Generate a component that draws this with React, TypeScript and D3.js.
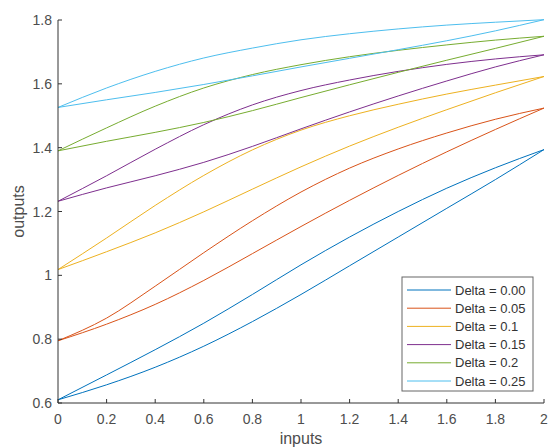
import React from "react";
import * as d3 from "d3";

const xValues = [0, 0.2, 0.4, 0.6, 0.8, 1.0, 1.2, 1.4, 1.6, 1.8, 2.0];
const legendLabels = ["Delta = 0.00", "Delta = 0.05", "Delta = 0.1", "Delta = 0.15", "Delta = 0.2", "Delta = 0.25"];
const seriesColors = ["#0072BD", "#D95319", "#EDB120", "#7E2F8E", "#77AC30", "#4DBEEE"];

const d000Upper = [0.61, 0.688, 0.767, 0.85, 0.94, 1.033, 1.12, 1.2, 1.273, 1.337, 1.394];
const d000Lower = [0.61, 0.657, 0.712, 0.778, 0.855, 0.94, 1.03, 1.12, 1.21, 1.3, 1.394];
const d005Upper = [0.795, 0.866, 0.966, 1.071, 1.171, 1.261, 1.336, 1.396, 1.446, 1.489, 1.524];
const d005Lower = [0.795, 0.847, 0.909, 0.984, 1.068, 1.153, 1.235, 1.313, 1.387, 1.457, 1.524];
const d010Upper = [1.018, 1.117, 1.219, 1.313, 1.393, 1.455, 1.5, 1.536, 1.568, 1.596, 1.623];
const d010Lower = [1.018, 1.074, 1.133, 1.199, 1.27, 1.34, 1.405, 1.464, 1.519, 1.572, 1.623];
const d015Upper = [1.232, 1.312, 1.395, 1.472, 1.534, 1.579, 1.612, 1.639, 1.661, 1.678, 1.691];
const d015Lower = [1.232, 1.274, 1.312, 1.354, 1.404, 1.459, 1.512, 1.562, 1.609, 1.653, 1.691];
const d020Upper = [1.39, 1.462, 1.53, 1.587, 1.629, 1.66, 1.685, 1.705, 1.722, 1.737, 1.749];
const d020Lower = [1.39, 1.42, 1.448, 1.479, 1.516, 1.557, 1.597, 1.636, 1.674, 1.711, 1.749];
const d025Upper = [1.526, 1.587, 1.639, 1.681, 1.712, 1.738, 1.757, 1.772, 1.784, 1.793, 1.801];
const d025Lower = [1.526, 1.55, 1.573, 1.598, 1.625, 1.653, 1.68, 1.707, 1.735, 1.766, 1.801];

const seriesUpper = [d000Upper, d005Upper, d010Upper, d015Upper, d020Upper, d025Upper];
const seriesLower = [d000Lower, d005Lower, d010Lower, d015Lower, d020Lower, d025Lower];

const xTicks = [0, 0.2, 0.4, 0.6, 0.8, 1, 1.2, 1.4, 1.6, 1.8, 2];
const yTicks = [0.6, 0.8, 1, 1.2, 1.4, 1.6, 1.8];

const W = 552;
const H = 448;
const left = 58;
const right = 544;
const top = 20;
const bottom = 403;

export default function App() {
  const x = d3.scaleLinear().domain([0, 2]).range([left, right]);
  const y = d3.scaleLinear().domain([0.6, 1.8]).range([bottom, top]);
  const line = d3
    .line<number>()
    .x((_, i) => x(xValues[i]))
    .y((d) => y(d))
    .curve(d3.curveMonotoneX);

  const font = "'Liberation Sans', Arial, sans-serif";
  const axisColor = "#333";
  const textColor = "#4d4d4d";

  const legX = 402;
  const legY = 277;
  const legW = 131;
  const legH = 114;
  const rowH = 18.2;

  return (
    <svg width={W} height={H} style={{ position: "absolute", left: 0, top: 0, background: "#fff" }}>
      <rect x={0} y={0} width={W} height={H} fill="#fff" />
      {seriesUpper.map((up, k) => (
        <g key={k} fill="none" stroke={seriesColors[k]} strokeWidth={1}>
          <path d={line(seriesLower[k]) || ""} />
          <path d={line(up) || ""} />
        </g>
      ))}
      <line x1={left} x2={left} y1={top} y2={bottom} stroke={axisColor} strokeWidth={1} />
      <line x1={left} x2={right} y1={bottom} y2={bottom} stroke={axisColor} strokeWidth={1} />
      {xTicks.map((t) => (
        <g key={"xt" + t}>
          <line x1={x(t)} x2={x(t)} y1={bottom} y2={bottom - 4} stroke={axisColor} />
          <text x={x(t)} y={424} textAnchor="middle" fontFamily={font} fontSize={14} fill={textColor}>
            {d3.format("~g")(t)}
          </text>
        </g>
      ))}
      {yTicks.map((t) => (
        <g key={"yt" + t}>
          <line x1={left} x2={left + 4} y1={y(t)} y2={y(t)} stroke={axisColor} />
          <text x={52} y={y(t) + 5} textAnchor="end" fontFamily={font} fontSize={14} fill={textColor}>
            {d3.format("~g")(t)}
          </text>
        </g>
      ))}
      <text x={(left + right) / 2} y={444} textAnchor="middle" fontFamily={font} fontSize={16} fill={textColor}>
        inputs
      </text>
      <text
        transform={`translate(24, ${(top + bottom) / 2}) rotate(-90)`}
        textAnchor="middle"
        fontFamily={font}
        fontSize={16}
        fill={textColor}
      >
        outputs
      </text>
      <rect x={legX} y={legY} width={legW} height={legH} fill="#fff" stroke="#666" strokeWidth={1} />
      {legendLabels.map((lab, i) => {
        const cy = legY + 13 + i * rowH;
        return (
          <g key={lab}>
            <line x1={legX + 5} x2={legX + 49} y1={cy} y2={cy} stroke={seriesColors[i]} strokeWidth={1} />
            <text x={legX + 53} y={cy + 4.5} fontFamily={font} fontSize={13} fill="#333">
              {lab}
            </text>
          </g>
        );
      })}
    </svg>
  );
}
